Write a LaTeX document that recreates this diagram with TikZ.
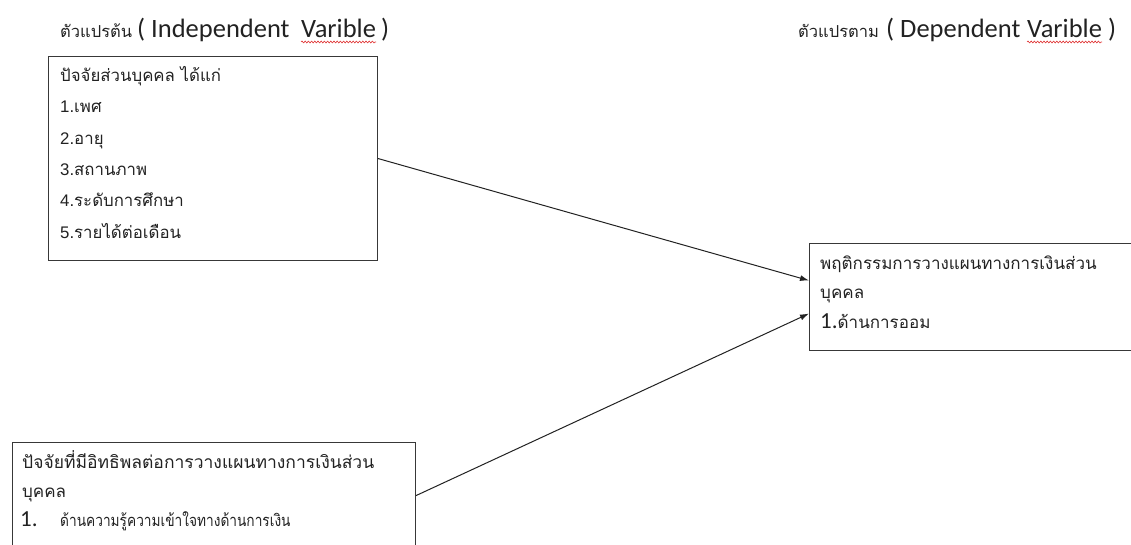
\documentclass[tikz,border=0pt]{standalone}
\usepackage{fontspec}
\usepackage{graphicx}
\usetikzlibrary{arrows.meta,decorations.pathmorphing}
\newfontfamily\thaiff[Script=Thai]{Loma}
\newfontfamily\carff{Carlito}
\newfontfamily\libff{Liberation Sans}
\definecolor{ink}{HTML}{222222}
\definecolor{wave}{HTML}{E03030}
\tikzset{
  box/.style={draw=ink!90, line width=1.1pt, anchor=north west, inner sep=0pt},
  txt/.style={inner sep=0pt, anchor=base west, text=ink, font=\thaiff\fontsize{16.8}{18}\selectfont},
  ttl/.style={inner sep=0pt, anchor=base west, text=ink},
  eng/.style={ttl, font=\carff\fontsize{26.5}{28}\selectfont},
  arr/.style={draw=ink, line width=1pt, -{Latex[length=9pt,width=6pt]}},
  spell/.style={draw=wave, line width=0.6pt, decorate, decoration={snake, amplitude=0.9pt, segment length=3.2pt}}
}
\begin{document}
\begin{tikzpicture}[x=1pt,y=-1pt]
\useasboundingbox (0,0) rectangle (1131,545);
\fill[white] (0,0) rectangle (1131,545);
\clip (0,0) rectangle (1131,545);
% titles
\node[ttl, font=\thaiff\fontsize{16.5}{18}\selectfont] (t1a) at (60,38) {ตัวแปรต้น};
\node[eng] (t1b) at (137,38) {( Independent};
\node[eng] (t1c) at (301,38) {Varible};
\node[eng] (t1d) at (381,38) {)};
\draw[spell] ([yshift=-4pt]t1c.base west) -- ([yshift=-4pt]t1c.base east);
\node[ttl, font=\thaiff\fontsize{16.5}{18}\selectfont] (t2a) at (798,38) {ตัวแปรตาม};
\node[eng] (t2b) at (886,38) {( Dependent};
\node[eng] (t2c) at (1027,38) {Varible};
\node[eng] (t2d) at (1108,38) {)};
\draw[spell] ([yshift=-4pt]t2c.base west) -- ([yshift=-4pt]t2c.base east);
% boxes
\node[box, minimum width=329pt, minimum height=204pt] (b1) at (48,56) {};
\node[box, minimum width=340pt, minimum height=107pt] (b2) at (809,243) {};
\node[box, minimum width=403pt, minimum height=106pt] (b3) at (12,442) {};
% box 1 text
\node[txt] (l10) at (60,82) {ปัจจัยส่วนบุคคล ได้แก่};
\node[txt] (l11) at (60,113) {{\libff 1.}เพศ};
\node[txt] (l12) at (60,145) {{\libff 2.}อายุ};
\node[txt] (l13) at (60,176) {{\libff 3.}สถานภาพ};
\node[txt] (l14) at (60,207) {{\libff 4.}ระดับการศึกษา};
\node[txt] (l15) at (60,238) {{\libff 5.}รายได้ต่อเดือน};
% box 2 text
\node[txt, font=\thaiff\fontsize{17}{18}\selectfont] (l20) at (820,269) {พฤติกรรมการวางแผนทางการเงินส่วน};
\node[txt, font=\thaiff\fontsize{17}{18}\selectfont] (l21) at (820,298) {บุคคล};
\node[txt, font=\thaiff\fontsize{17}{18}\selectfont] (l22) at (820,328) {{\carff\fontsize{23}{26}\selectfont 1.}ด้านการออม};
% box 3 text
\node[txt, font=\thaiff\fontsize{17.5}{18}\selectfont] (l30) at (22,468) {ปัจจัยที่มีอิทธิพลต่อการวางแผนทางการเงินส่วน};
\node[txt, font=\thaiff\fontsize{17}{18}\selectfont] (l31) at (22,497) {บุคคล};
\node[txt, font=\carff\fontsize{23}{26}\selectfont] (l32a) at (20,526) {1.};
\node[txt, font=\thaiff\fontsize{16.5}{18}\selectfont] (l32b) at (60,526) {\scalebox{0.83}[1]{ด้านความรู้ความเข้าใจทางด้านการเงิน}};
% connectors
\draw[arr] (b1.east) -- ([yshift=16.5pt]b2.west);
\draw[arr] (b3.east) -- ([yshift=-16.5pt]b2.west);
\end{tikzpicture}
\end{document}
